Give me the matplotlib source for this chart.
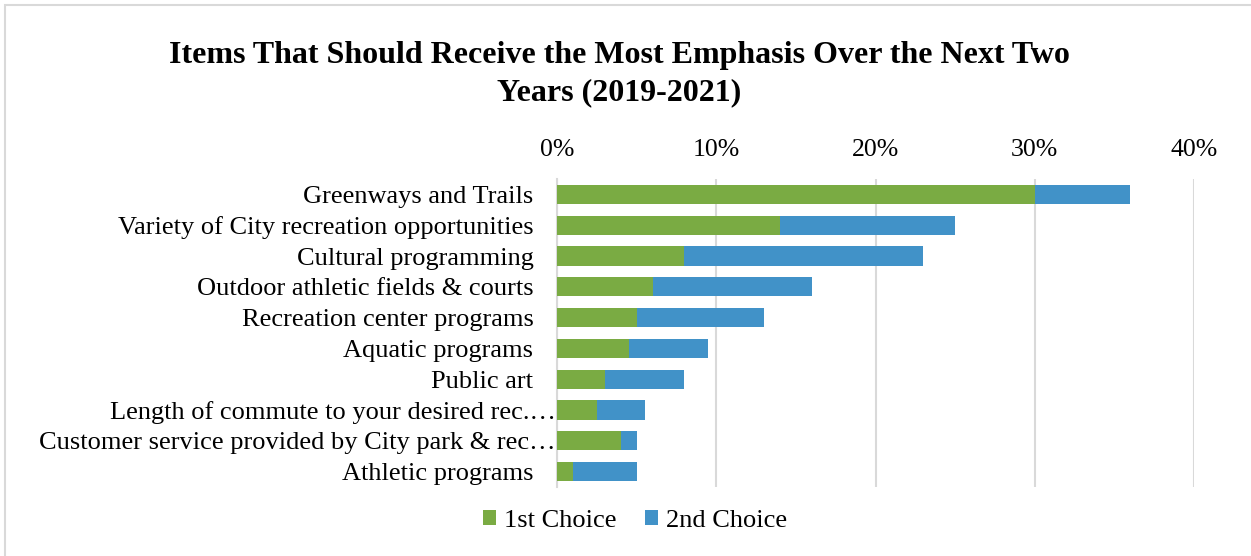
import matplotlib.pyplot as plt
from matplotlib.patches import Rectangle
from matplotlib.ticker import FuncFormatter
from matplotlib.transforms import ScaledTranslation

categories = [
    "Greenways and Trails",
    "Variety of City recreation opportunities",
    "Cultural programming",
    "Outdoor athletic fields & courts",
    "Recreation center programs",
    "Aquatic programs",
    "Public art",
    "Length of commute to your desired rec.\u2026",
    "Customer service provided by City park & rec\u2026",
    "Athletic programs",
]
first_choice = [30, 14, 8, 6, 5, 4.5, 3, 2.5, 4, 1]
second_choice = [6, 11, 15, 10, 8, 5, 5, 3, 1, 4]

GREEN = "#7aab43"
BLUE = "#4192c8"
GRID = "#d9d9d9"

plt.rcParams["font.family"] = ["Liberation Serif", "DejaVu Serif"]

fig = plt.figure(figsize=(12.51, 5.56), dpi=100)
ax = fig.add_axes([557 / 1251, 1 - 487 / 556, 637 / 1251, 308 / 556])

# outer chart frame
fig.patches.append(Rectangle((5 / 1251, -0.1), 1.2, 1.1 - 5 / 556,
                             transform=fig.transFigure, fill=False,
                             edgecolor="#d9d9d9", linewidth=1.5))

y = range(len(categories))
ax.barh(y, [v / 100 for v in first_choice], height=0.62, color=GREEN,
        label="1st Choice", zorder=3)
ax.barh(y, [v / 100 for v in second_choice],
        left=[v / 100 for v in first_choice], height=0.62, color=BLUE,
        label="2nd Choice", zorder=3)

ax.set_xlim(0, 0.4)
ax.set_ylim(len(categories) - 0.5, -0.5)
ax.set_xticks([0, 0.1, 0.2, 0.3, 0.4])
ax.xaxis.set_major_formatter(FuncFormatter(lambda v, p: f"{v * 100:.0f}%"))
ax.xaxis.tick_top()
ax.set_yticks(list(y))
ax.set_yticklabels(categories)
ax.tick_params(axis="x", length=0, labelsize=18.5, pad=13)
ax.tick_params(axis="y", length=0, labelsize=19, pad=17)
ax.grid(axis="x", color=GRID, linewidth=1.5, zorder=0)
for s in ["top", "right", "bottom"]:
    ax.spines[s].set_visible(False)
ax.spines["left"].set_color(GRID)
ax.spines["left"].set_linewidth(1.5)

# truncated labels hang their ellipsis past the normal label edge
shift = ScaledTranslation(0.22, 0, fig.dpi_scale_trans)
for lbl in ax.get_yticklabels():
    if lbl.get_text().endswith("\u2026"):
        lbl.set_transform(lbl.get_transform() + shift)

fig.text(0.495, 1 - 74 / 556,
         "Items That Should Receive the Most Emphasis Over the Next Two\nYears (2019-2021)",
         ha="center", va="center", fontsize=23, fontweight="bold",
         linespacing=1.4)

fig.legend(loc="center", bbox_to_anchor=(635 / 1251, 1 - 521 / 556), ncol=2,
           frameon=False, fontsize=19, handlelength=0.5, handleheight=0.5,
           handletextpad=0.3, columnspacing=1.1)

fig.savefig("out.png", dpi=100)
